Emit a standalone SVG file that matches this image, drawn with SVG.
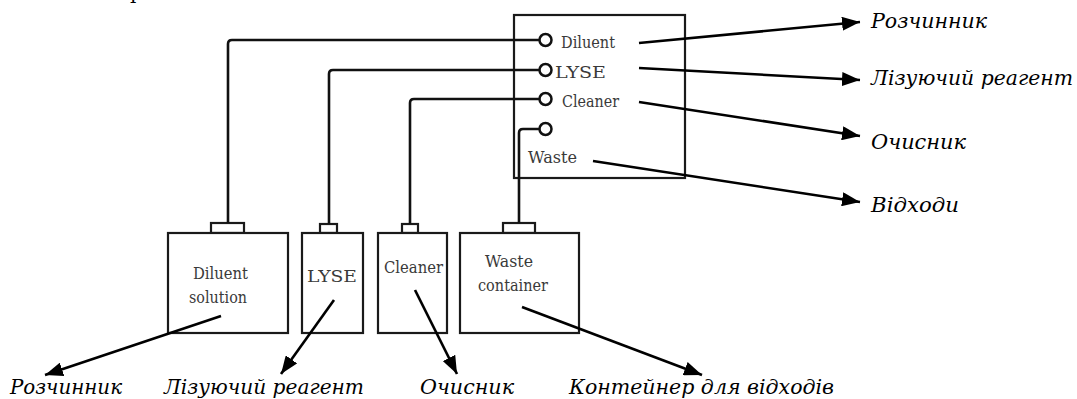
<svg xmlns="http://www.w3.org/2000/svg" width="1077" height="399" viewBox="0 0 1077 399">
  <style>
    .box { fill: #fff; stroke: #1a1a1a; stroke-width: 2.2; }
    .port { fill: #fff; stroke: #111; stroke-width: 2.5; }
    .pipe { fill: none; stroke: #111; stroke-width: 2.6; }
    .ptr { fill: none; stroke: #000; stroke-width: 2.6; }
    .lbl { font-size: 17px; fill: #3a3a3a; }
    .cap { font-size: 20px; font-style: italic; fill: #000; }
  </style>
  <defs>
    <marker id="head" viewBox="0 0 18 14" refX="18" refY="7" markerWidth="18" markerHeight="14" markerUnits="userSpaceOnUse" orient="auto">
      <path d="M0,0 L18,7 L0,14 z" fill="#000"/>
    </marker>
  </defs>
  <rect width="1077" height="399" fill="#fff"/>

  <!-- clipped descender of a line above the drawing -->
  <text x="130" y="-1" font-size="20" font-family="DejaVu Serif, serif" fill="#000">р</text>

  <!-- analyser panel with its four ports -->
  <g id="analyser" font-family="DejaVu Serif, serif">
    <rect class="box" x="514" y="15" width="171" height="163"/>
    <circle class="port" cx="545.5" cy="40" r="6"/>
    <circle class="port" cx="545.5" cy="70" r="6"/>
    <circle class="port" cx="545.5" cy="99" r="6"/>
    <circle class="port" cx="545.5" cy="129" r="6"/>
    <text class="lbl" x="561" y="48" textLength="54" lengthAdjust="spacingAndGlyphs">Diluent</text>
    <text class="lbl" x="555" y="78" textLength="51" lengthAdjust="spacingAndGlyphs">LYSE</text>
    <text class="lbl" x="562" y="107" textLength="57" lengthAdjust="spacingAndGlyphs">Cleaner</text>
    <text class="lbl" x="528" y="163" textLength="49" lengthAdjust="spacingAndGlyphs">Waste</text>
  </g>

  <!-- reagent and waste containers -->
  <g id="containers" font-family="DejaVu Serif, serif">
    <g id="diluent-container">
      <rect class="box" x="211" y="223" width="33" height="10"/>
      <rect class="box" x="168" y="233" width="120" height="100"/>
      <text class="lbl" x="193" y="279" textLength="55" lengthAdjust="spacingAndGlyphs">Diluent</text>
      <text class="lbl" x="189" y="303" textLength="58" lengthAdjust="spacingAndGlyphs">solution</text>
    </g>
    <g id="lyse-container">
      <rect class="box" x="320" y="224" width="17" height="9"/>
      <rect class="box" x="302" y="233" width="61" height="100"/>
      <text class="lbl" x="307" y="282" textLength="50" lengthAdjust="spacingAndGlyphs">LYSE</text>
    </g>
    <g id="cleaner-container">
      <rect class="box" x="402" y="224" width="16" height="9"/>
      <rect class="box" x="378" y="233" width="69" height="100"/>
      <text class="lbl" x="384" y="273" textLength="59" lengthAdjust="spacingAndGlyphs">Cleaner</text>
    </g>
    <g id="waste-container">
      <rect class="box" x="503" y="223" width="32" height="10"/>
      <rect class="box" x="460" y="233" width="119" height="100"/>
      <text class="lbl" x="485" y="267" textLength="48" lengthAdjust="spacingAndGlyphs">Waste</text>
      <text class="lbl" x="478" y="291" textLength="70" lengthAdjust="spacingAndGlyphs">container</text>
    </g>
  </g>

  <!-- annotation labels -->
  <g id="labels-right" font-family="DejaVu Serif, serif">
    <text class="cap" x="871" y="28" textLength="116" lengthAdjust="spacingAndGlyphs">Розчинник</text>
    <text class="cap" x="871" y="85" textLength="202" lengthAdjust="spacingAndGlyphs">Лізуючий реагент</text>
    <text class="cap" x="871" y="149" textLength="95" lengthAdjust="spacingAndGlyphs">Очисник</text>
    <text class="cap" x="871" y="212" textLength="88" lengthAdjust="spacingAndGlyphs">Відходи</text>
  </g>
  <g id="labels-bottom" font-family="DejaVu Serif, serif">
    <text class="cap" x="10" y="394" textLength="112" lengthAdjust="spacingAndGlyphs">Розчинник</text>
    <text class="cap" x="164" y="394" textLength="200" lengthAdjust="spacingAndGlyphs">Лізуючий реагент</text>
    <text class="cap" x="420" y="394" textLength="94" lengthAdjust="spacingAndGlyphs">Очисник</text>
    <text class="cap" x="569" y="394" textLength="265" lengthAdjust="spacingAndGlyphs">Контейнер для відходів</text>
  </g>

  <!-- tubing and pointer arrows -->
  <g id="connectors">
    <path class="pipe" d="M539,40 H232 Q228,40 228,44 V223"/>
    <path class="pipe" d="M539,70 H333 Q329,70 329,74 V224"/>
    <path class="pipe" d="M539,99 H414 Q410,99 410,103 V224"/>
    <path class="pipe" d="M539,129 H523 Q519,129 519,133 V223"/>

    <line class="ptr" x1="639" y1="43" x2="860" y2="22" marker-end="url(#head)"/>
    <line class="ptr" x1="639" y1="68" x2="860" y2="80" marker-end="url(#head)"/>
    <line class="ptr" x1="639" y1="102" x2="860" y2="136" marker-end="url(#head)"/>
    <line class="ptr" x1="593" y1="161" x2="860" y2="202" marker-end="url(#head)"/>

    <line class="ptr" x1="221" y1="316" x2="45" y2="375" marker-end="url(#head)"/>
    <line class="ptr" x1="334" y1="300" x2="281" y2="374" marker-end="url(#head)"/>
    <line class="ptr" x1="415" y1="290" x2="457" y2="374" marker-end="url(#head)"/>
    <line class="ptr" x1="522" y1="307" x2="702" y2="375" marker-end="url(#head)"/>
  </g>
</svg>
